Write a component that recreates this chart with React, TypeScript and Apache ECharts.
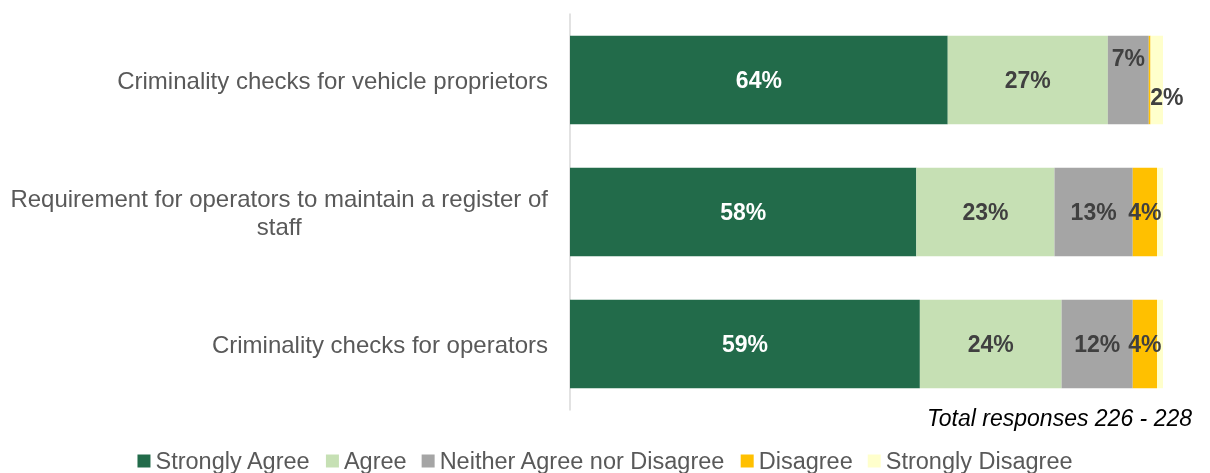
import React, { useEffect, useRef } from "react";
import * as echarts from "echarts";

const categories = [
  "Criminality checks for vehicle proprietors",
  "Requirement for operators to maintain a register of\nstaff",
  "Criminality checks for operators",
];
const seriesNames = ["Strongly Agree", "Agree", "Neither Agree nor Disagree", "Disagree", "Strongly Disagree"];
const stronglyAgree = [63.7, 58.4, 59.0];
const agree = [27.0, 23.3, 23.9];
const neither = [6.9, 13.2, 12.0];
const disagree = [0.3, 4.1, 4.1];
const stronglyDisagree = [2.1, 1.0, 1.0];
const colors = ["#226B4A", "#C6E0B4", "#A5A5A5", "#FFC000", "#FFFFCC"];
const note = "Total responses 226 - 228";

const FONT = "'Liberation Sans', Arial, sans-serif";

export default function App() {
  const ref = useRef<HTMLDivElement>(null);
  useEffect(() => {
    if (!ref.current) return;
    const chart = echarts.init(ref.current, null, { renderer: "svg" });
    const values = [stronglyAgree, agree, neither, disagree, stronglyDisagree];
    const offsets: Record<string, number[]> = { "2-0": [0, -22], "4-0": [10, 17] };
    const series = values.map((vals, si) => ({
      name: seriesNames[si],
      type: "bar",
      stack: "total",
      barCategoryGap: "33%",
      itemStyle: { color: colors[si] },
      label: {
        show: true,
        position: "inside",
        fontFamily: FONT,
        fontSize: 23,
        fontWeight: "bold",
        color: si === 0 ? "#FFFFFF" : "#404040",
        formatter: (p: any) => (p.value >= 1.5 ? Math.round(p.value) + "%" : ""),
      },
      data: vals.map((v, ci) => {
        const off = offsets[`${si}-${ci}`];
        return off ? { value: v, label: { offset: off } } : v;
      }),
    }));
    chart.setOption({
      animation: false,
      textStyle: { fontFamily: FONT },
      grid: { left: 570, right: 47, top: 14, bottom: 63, containLabel: false },
      title: {
        text: note,
        right: 13,
        top: 401,
        textStyle: { fontFamily: FONT, fontSize: 23, fontStyle: "italic", fontWeight: "normal", color: "#000000" },
      },
      legend: {
        top: 449,
        left: "center",
        padding: 0,
        itemWidth: 13,
        itemHeight: 13,
        itemGap: 15,
        icon: "rect",
        textStyle: { fontFamily: FONT, fontSize: 23.5, color: "#595959", lineHeight: 24 },
        data: seriesNames,
      },
      xAxis: {
        type: "value",
        min: 0,
        max: 100,
        show: false,
      },
      yAxis: {
        type: "category",
        inverse: true,
        data: categories,
        axisLine: { show: true, lineStyle: { color: "#D9D9D9", width: 1.5 } },
        axisTick: { show: false },
        axisLabel: {
          margin: 22,
          formatter: (v: string) => v.split("\n").map((l) => `{c|${l}}`).join("\n"),
          rich: {
            c: { align: "center", fontFamily: FONT, fontSize: 24, color: "#595959", lineHeight: 28 },
          },
        },
      },
      series,
    });
    return () => chart.dispose();
  }, []);
  return <div ref={ref} style={{ position: "fixed", left: 0, top: 0, width: 1210, height: 473 }} />;
}
